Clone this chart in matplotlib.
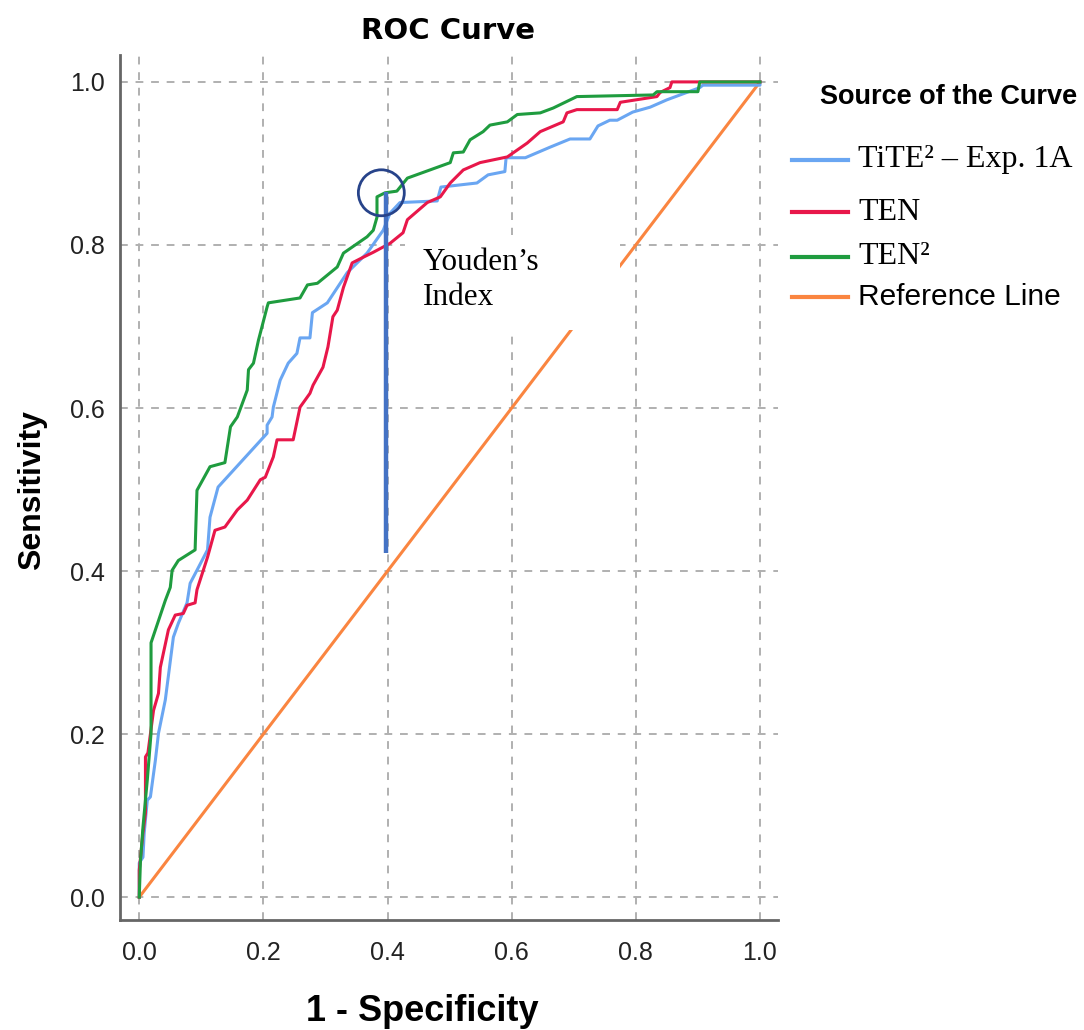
import matplotlib
matplotlib.use("Agg")
import matplotlib.pyplot as plt
from matplotlib.lines import Line2D
from matplotlib.patches import Ellipse, Rectangle

# ROC curves (1 - specificity, sensitivity)
tite2_fpr = [0, 0, 0.006, 0.008, 0.013, 0.018, 0.021, 0.026, 0.031, 0.042, 0.055, 0.063, 0.077, 0.082,
             0.093, 0.110, 0.114, 0.127, 0.206, 0.206, 0.214, 0.216, 0.227, 0.240, 0.254, 0.259, 0.275,
             0.279, 0.303, 0.335, 0.367, 0.393, 0.404, 0.420, 0.480, 0.486, 0.544, 0.562, 0.589, 0.591,
             0.622, 0.662, 0.694, 0.726, 0.739, 0.758, 0.770, 0.795, 0.823, 0.850, 0.903, 0.908, 1.0, 1.0]
tite2_tpr = [0, 0.042, 0.049, 0.079, 0.119, 0.123, 0.140, 0.168, 0.201, 0.242, 0.319, 0.336, 0.361, 0.385,
             0.401, 0.426, 0.466, 0.503, 0.569, 0.579, 0.589, 0.601, 0.634, 0.655, 0.667, 0.686, 0.686,
             0.717, 0.729, 0.766, 0.790, 0.818, 0.839, 0.852, 0.854, 0.871, 0.876, 0.886, 0.890, 0.907,
             0.907, 0.920, 0.930, 0.930, 0.946, 0.953, 0.953, 0.963, 0.969, 0.978, 0.993, 0.996, 0.996, 1.0]

ten_fpr = [0, 0, 0.006, 0.010, 0.010, 0.014, 0.023, 0.031, 0.034, 0.047, 0.058, 0.071, 0.077, 0.090,
           0.093, 0.110, 0.122, 0.138, 0.158, 0.174, 0.195, 0.203, 0.216, 0.222, 0.248, 0.259, 0.275,
           0.280, 0.296, 0.304, 0.312, 0.319, 0.329, 0.343, 0.361, 0.377, 0.404, 0.425, 0.432, 0.464,
           0.485, 0.501, 0.522, 0.549, 0.593, 0.625, 0.646, 0.683, 0.689, 0.705, 0.770, 0.775, 0.834,
           0.839, 0.855, 0.858, 1.0]
ten_tpr = [0, 0.033, 0.079, 0.103, 0.172, 0.177, 0.229, 0.250, 0.282, 0.328, 0.346, 0.348, 0.358, 0.361,
           0.377, 0.417, 0.450, 0.454, 0.475, 0.487, 0.512, 0.515, 0.540, 0.561, 0.561, 0.601, 0.618,
           0.628, 0.650, 0.675, 0.712, 0.720, 0.748, 0.778, 0.785, 0.791, 0.802, 0.815, 0.831, 0.852,
           0.859, 0.876, 0.892, 0.901, 0.908, 0.925, 0.939, 0.951, 0.962, 0.966, 0.966, 0.975, 0.982,
           0.987, 0.993, 1.0, 1.0]

ten2_fpr = [0, 0.002, 0.006, 0.013, 0.019, 0.019, 0.042, 0.050, 0.053, 0.063, 0.090, 0.093, 0.114, 0.138,
            0.147, 0.158, 0.174, 0.176, 0.184, 0.192, 0.206, 0.208, 0.259, 0.271, 0.287, 0.303, 0.319,
            0.329, 0.367, 0.377, 0.383, 0.383, 0.396, 0.415, 0.432, 0.501, 0.506, 0.522, 0.533, 0.554,
            0.565, 0.593, 0.609, 0.646, 0.667, 0.705, 0.828, 0.834, 0.900, 0.903, 1.0]
ten2_tpr = [0, 0.045, 0.086, 0.144, 0.201, 0.312, 0.364, 0.380, 0.401, 0.413, 0.426, 0.499, 0.528, 0.533,
            0.577, 0.589, 0.622, 0.647, 0.655, 0.683, 0.724, 0.729, 0.735, 0.751, 0.753, 0.763, 0.773,
            0.790, 0.810, 0.818, 0.834, 0.859, 0.864, 0.866, 0.882, 0.901, 0.913, 0.914, 0.929, 0.939,
            0.947, 0.951, 0.960, 0.962, 0.968, 0.982, 0.984, 0.988, 0.988, 1.0, 1.0]

ref_x = [0, 1]
ref_y = [0, 1]

# Youden's index marker
youden_x = 0.397
youden_low, youden_high = 0.422, 0.865

labels = ["TiTE\u00b2 \u2013 Exp. 1A", "TEN", "TEN\u00b2", "Reference Line"]
colors = ["#6aa6f2", "#e8174a", "#1f9c3f", "#fa8540"]
ticks = [0.0, 0.2, 0.4, 0.6, 0.8, 1.0]

sans = ["Liberation Sans", "DejaVu Sans"]
serif = ["Liberation Serif", "DejaVu Serif"]

fig = plt.figure(figsize=(10.84, 10.30), dpi=100)
ax = fig.add_axes([0.1107, 0.1068, 0.6070, 0.8398])

ax.plot(ref_x, ref_y, color=colors[3], lw=2.2, zorder=1.5)
ax.plot(tite2_fpr, tite2_tpr, color=colors[0], lw=2.2, zorder=3)
ax.plot(ten_fpr, ten_tpr, color=colors[1], lw=2.2, zorder=3.1)
ax.plot(ten2_fpr, ten2_tpr, color=colors[2], lw=2.2, zorder=3.2)

# white box behind the annotation text
ax.add_patch(Rectangle((0.428, 0.696), 0.347, 0.116, facecolor="white", edgecolor="none", zorder=1.8))
ax.text(0.457, 0.757, "Youden\u2019s\nIndex", family=serif, fontsize=22.5, va="center", ha="left",
        linespacing=1.3, zorder=4)

ax.plot([youden_x, youden_x], [youden_low, youden_high], color="#4472c4", lw=3.2, zorder=4,
        solid_capstyle="butt")
ax.add_patch(Ellipse((0.390, 0.864), 0.074, 0.0564, facecolor="none", edgecolor="#27438a",
                     lw=2.0, zorder=5))

ax.set_xlim(-0.031, 1.029)
ax.set_ylim(-0.028, 1.033)
ax.set_xticks(ticks)
ax.set_yticks(ticks)
ax.set_xticklabels([f"{t:.1f}" for t in ticks], family=sans, fontsize=18)
ax.set_yticklabels([f"{t:.1f}" for t in ticks], family=sans, fontsize=18)
ax.tick_params(axis="y", length=0, pad=11, colors="#222222")
ax.tick_params(axis="x", length=0, pad=15, colors="#222222")
ax.set_axisbelow(True)
ax.grid(True, color="#b0b0b0", lw=1.4, linestyle=(0, (4, 4)))
for s in ["top", "right"]:
    ax.spines[s].set_visible(False)
for s in ["left", "bottom"]:
    ax.spines[s].set_color("#666666")
    ax.spines[s].set_linewidth(2)

ax.set_ylabel("Sensitivity", family=sans, fontweight="bold", fontsize=23, va="center")
ax.yaxis.set_label_coords(-0.134, 0.497)
ax.set_xlabel("1 - Specificity", family=sans, fontweight="bold", fontsize=26, va="center")
ax.xaxis.set_label_coords(0.459, -0.106)

fig.text(448 / 1084, 1 - 31 / 1030, "ROC Curve", family=["Liberation Sans Narrow", "DejaVu Sans"],
         fontweight="bold", fontsize=21, ha="center", va="center")

# legend drawn by hand to keep the uneven spacing of the reference
fig.text(820 / 1084, 1 - 97 / 1030, "Source of the Curve", family=sans, fontweight="bold",
         fontsize=19.5, ha="left", va="center")
leg_y = [160, 212, 257, 297]
for i, (lab, col) in enumerate(zip(labels, colors)):
    yy = 1 - leg_y[i] / 1030
    fig.add_artist(Line2D([792 / 1084, 848 / 1084], [yy, yy], color=col, lw=3, transform=fig.transFigure))
    fam = sans if i == 3 else serif
    size = 21.5 if i == 3 else 23
    fig.text(858 / 1084, yy, lab, family=fam, fontsize=size, ha="left", va="center")

fig.savefig("out.png", dpi=100, facecolor="white")
